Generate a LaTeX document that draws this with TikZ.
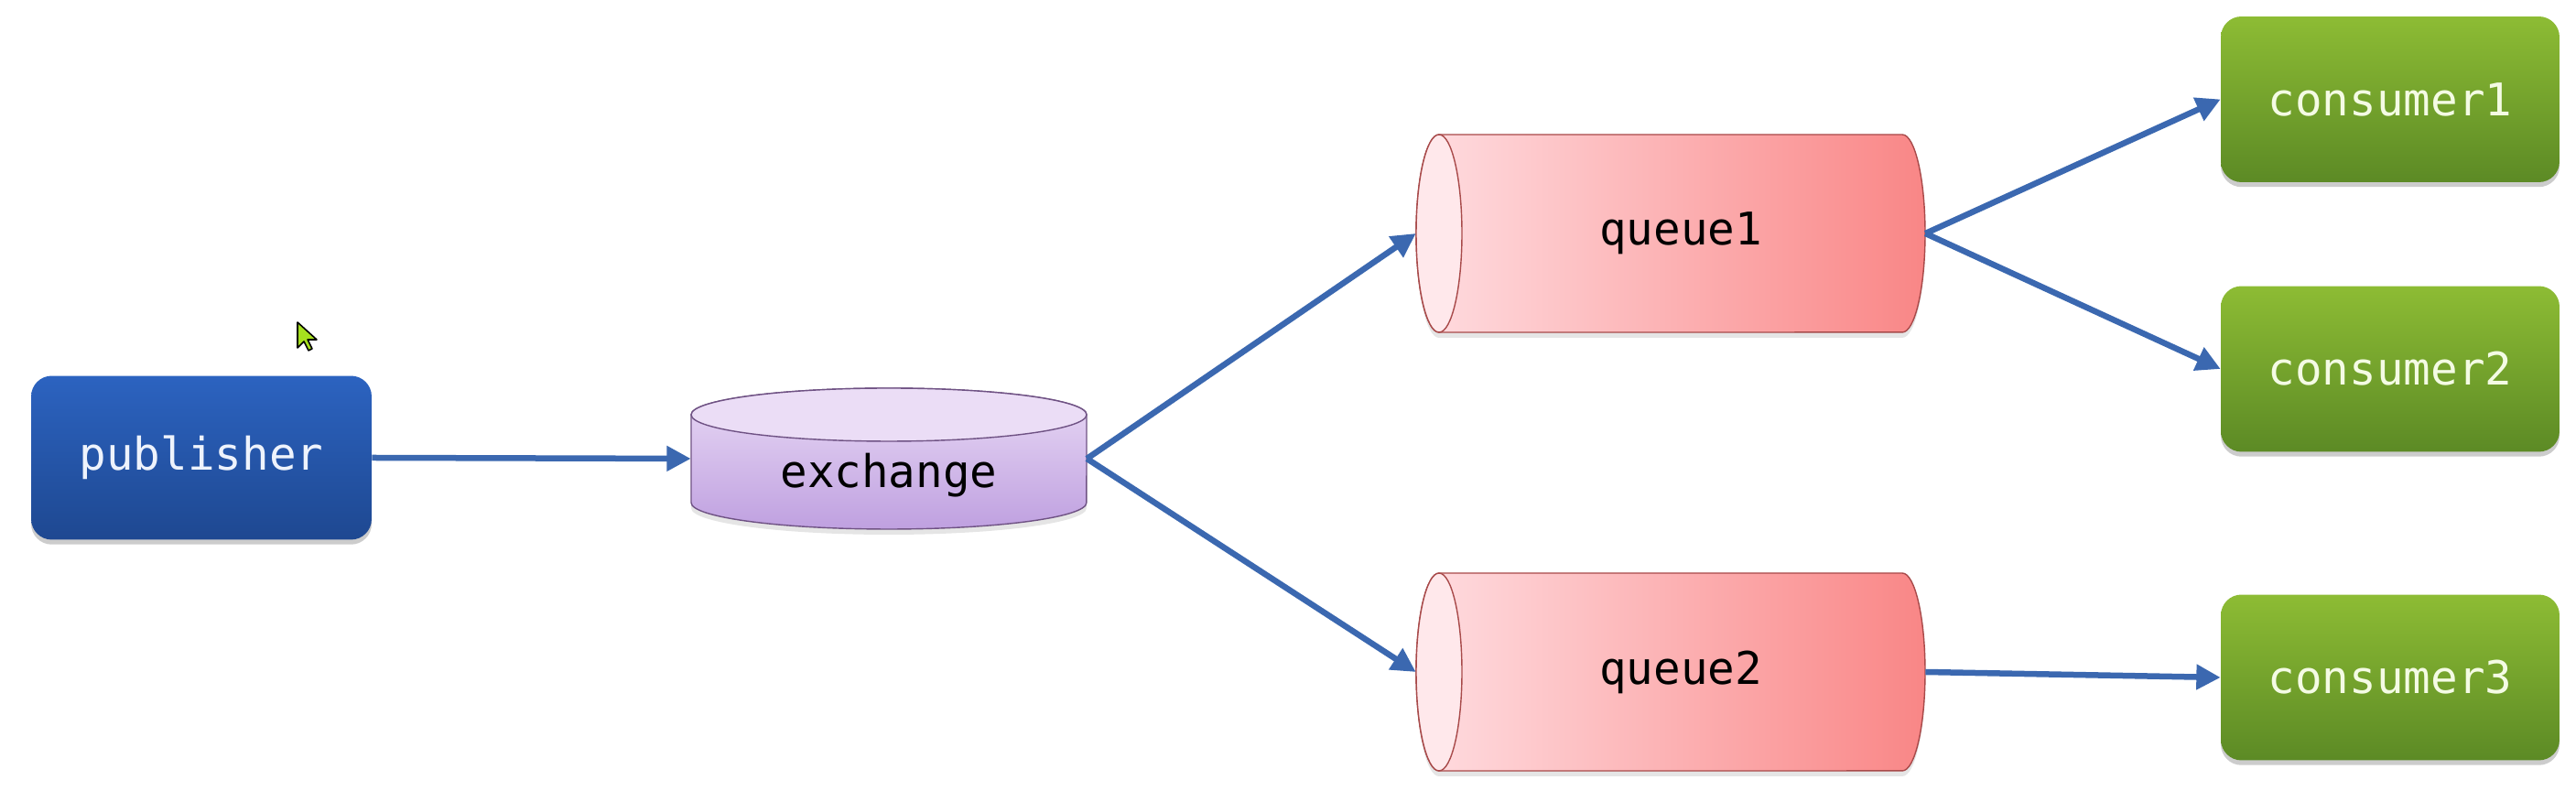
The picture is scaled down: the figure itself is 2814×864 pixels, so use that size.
\documentclass[tikz,border=0pt]{standalone}
\usepackage{fontspec}
\setmonofont{DejaVu Sans Mono}
\usetikzlibrary{arrows.meta,shadows,calc}
\definecolor{pubT}{HTML}{2C63C0}
\definecolor{pubB}{HTML}{1E4891}
\definecolor{pubTxt}{HTML}{EEF3FC}
\definecolor{consT}{HTML}{8DBC34}
\definecolor{consB}{HTML}{5C8A25}
\definecolor{consTxt}{HTML}{F4FBE4}
\definecolor{exT}{HTML}{E9DAF5}
\definecolor{exB}{HTML}{BFA0E0}
\definecolor{exTop}{HTML}{EBDDF6}
\definecolor{exLine}{HTML}{6F5284}
\definecolor{qL}{HTML}{FFDDE1}
\definecolor{qR}{HTML}{F98686}
\definecolor{qEnd}{HTML}{FFE8EB}
\definecolor{qLine}{HTML}{A84A4A}
\definecolor{flowC}{HTML}{3B68B0}
\definecolor{cursorC}{HTML}{A6E01E}
\newcommand\drawqueue[2]{%
  \fill[black,opacity=0.10] (#1-253,#2+102) -- (#1+253,#2+102) arc[start angle=90,end angle=-90,x radius=0.5cm,y radius=2.16cm] -- (#1-253,#2-114) arc[start angle=270,end angle=90,x radius=0.5cm,y radius=2.16cm] -- cycle;
  \shade[left color=qL, right color=qR, draw=qLine, line width=0.8pt] (#1-253,#2+108) -- (#1+253,#2+108) arc[start angle=90,end angle=-90,x radius=0.5cm,y radius=2.16cm] -- (#1-253,#2-108) arc[start angle=270,end angle=90,x radius=0.5cm,y radius=2.16cm] -- cycle;
  \filldraw[fill=qEnd, draw=qLine, line width=0.8pt] (#1-253,#2) ellipse[x radius=0.5cm, y radius=2.16cm];
}
\begin{document}
\begin{tikzpicture}[x=0.02cm,y=0.02cm,
  txt/.style={font=\ttfamily\fontsize{28}{32}\selectfont},
  box/.style={txt, rounded corners=0.45cm, inner sep=0pt,
    drop shadow={shadow xshift=0pt, shadow yshift=-3pt, opacity=0.2, fill=black}},
  pub/.style={box, minimum width=7.44cm, minimum height=3.58cm, top color=pubT, bottom color=pubB, text=pubTxt},
  cons/.style={box, minimum width=7.4cm, minimum height=3.62cm, top color=consT, bottom color=consB, text=consTxt},
  lab/.style={txt, text=black, inner sep=0pt},
  flow/.style={draw=flowC, line width=3.7pt, -{Triangle[length=15pt,width=15pt]}}
]
\fill[white] (0,0) rectangle (2814,864);
\useasboundingbox (0,0) rectangle (2814,864);

% exchange cylinder
\fill[black,opacity=0.10] (755,405) -- (755,309) arc[start angle=180,end angle=360,x radius=4.32cm,y radius=0.58cm] -- (1187,405) -- cycle;
\shade[top color=exT, bottom color=exB, draw=exLine, line width=0.8pt]
  (755,411) -- (755,315) arc[start angle=180,end angle=360,x radius=4.32cm,y radius=0.58cm]
  -- (1187,411) arc[start angle=0,end angle=180,x radius=4.32cm,y radius=0.58cm] -- cycle;
\filldraw[fill=exTop, draw=exLine, line width=0.8pt] (971,411) ellipse[x radius=4.32cm, y radius=0.58cm];

% queues
\drawqueue{1825}{609}
\drawqueue{1825}{130}

% nodes
\node[pub] (pub) at (220,364) {publisher};
\node[lab, minimum width=8.64cm, minimum height=3.08cm] (ex) at (971,363) {\raisebox{-18pt}[0pt][0pt]{exchange}};
\node[lab, minimum width=11.12cm, minimum height=4.32cm] (q1) at (1825,609) {\hspace*{0.44cm}queue1};
\node[lab, minimum width=11.12cm, minimum height=4.32cm] (q2) at (1825,130) {\hspace*{0.44cm}queue2};
\node[cons] (c1) at (2611,755.5) {consumer1};
\node[cons] (c2) at (2611,461) {consumer2};
\node[cons] (c3) at (2611,124) {consumer3};

% connectors
\draw[flow] (pub.east) -- (ex.west);
\draw[flow] (ex.east) -- (q1.west);
\draw[flow] (ex.east) -- (q2.west);
\draw[flow] (q1.east) -- (c1.west);
\draw[flow] (q1.east) -- (c2.west);
\draw[flow] (q2.east) -- (c3.west);

% mouse cursor
\filldraw[fill=cursorC, draw=black, line width=0.9pt, line join=round]
  (325,512) -- (325,484) -- (332,491) -- (337,481) -- (341,483) -- (336,493) -- (346,493) -- cycle;
\end{tikzpicture}
\end{document}
